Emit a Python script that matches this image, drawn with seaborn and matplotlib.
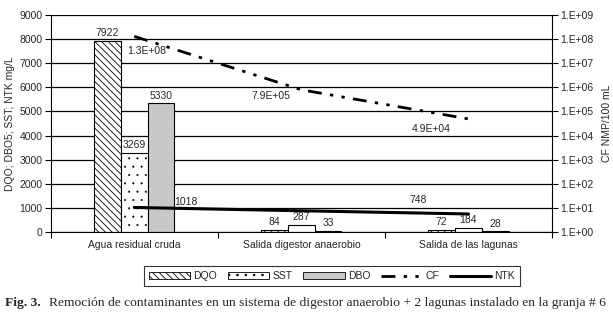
import matplotlib
matplotlib.use("Agg")
import matplotlib.pyplot as plt
import matplotlib.ticker as mticker
from matplotlib.patches import Patch
from matplotlib.lines import Line2D
import seaborn as sns
import pandas as pd
import numpy as np

categories = ["Agua residual cruda", "Salida digestor anaerobio", "Salida de las lagunas"]
dqo = [7922, 84, 72]
sst = [3269, 287, 184]
dbo = [5330, 33, 28]
cf = [1.3e8, 7.9e5, 4.9e4]
cf_labels = ["1.3E+08", "7.9E+05", "4.9E+04"]
ntk = [1018, 880, 748]
ntk_labels = ["1018", None, "748"]
series = ["DQO", "SST", "DBO"]

sns.set_theme(style="white")
plt.rcParams['font.family'] = ['Liberation Sans', 'DejaVu Sans']
plt.rcParams['hatch.linewidth'] = 0.6

FS = 7.5

rows = []
for name, vals in zip(series, [dqo, sst, dbo]):
    for c, v in zip(categories, vals):
        rows.append({"cat": c, "serie": name, "val": v})
df = pd.DataFrame(rows)

fig = plt.figure(figsize=(6.13, 3.20), dpi=100)
ax = fig.add_axes([50.7/613, 1-232/320, (552-50.7)/613, 217/320])

colors = {"DQO": "white", "SST": "white", "DBO": "#c8c8c8"}
sns.barplot(data=df, x="cat", y="val", hue="serie", order=categories, hue_order=series,
            palette=colors, width=0.48, edgecolor="black", linewidth=0.8, ax=ax,
            legend=False, saturation=1)
hatches = {"DQO": "\\\\\\\\\\", "SST": "..", "DBO": ""}
hatch_lw = {"DQO": 0.6, "SST": 0.25, "DBO": 0.6}
for cont, name in zip(ax.containers, series):
    for p in cont:
        p.set_hatch(hatches[name])
        p.set_edgecolor("black")
        try:
            p.set_hatch_linewidth(hatch_lw[name])
        except Exception:
            pass
    ax.bar_label(cont, labels=[str(v) for v in df[df.serie == name]["val"]],
                 padding=2, fontsize=FS)

ax.set_ylim(0, 9000)
ax.set_xlim(-0.5, 2.5)
ax.set_yticks(np.arange(0, 9001, 1000))
ax.yaxis.grid(True, color="black", linewidth=0.9)
ax.set_axisbelow(True)
ax.tick_params(axis="y", labelsize=FS, length=4, width=0.8, direction="out", left=True, color="black", pad=2)
ax.set_xticks([-0.5, 0.5, 1.5, 2.5])
ax.set_xticklabels([])
ax.set_xticks([0, 1, 2], minor=True)
ax.set_xticklabels(categories, minor=True, fontsize=FS)
ax.tick_params(axis="x", which="major", length=4, width=0.8, direction="out", bottom=True, color="black")
ax.tick_params(axis="x", which="minor", length=0, pad=6)
for s in ["top", "right"]:
    ax.spines[s].set_visible(False)
for s in ["left", "bottom"]:
    ax.spines[s].set_color("black")
    ax.spines[s].set_linewidth(0.8)

# NTK line on primary axis
ntk_df = pd.DataFrame({"x": [0, 1, 2], "v": ntk})
sns.lineplot(data=ntk_df, x="x", y="v", ax=ax, color="black", linewidth=2.2)
ax.set_xlabel("")
ax.set_ylabel("DQO; DBO5; SST; NTK mg/L", fontsize=FS, labelpad=3)
ax.set_xlim(-0.5, 2.5)
ax.annotate(ntk_labels[0], (0, ntk[0]), xytext=(37, 0), textcoords="offset points", fontsize=FS, ha="center", va="bottom")
ax.annotate(ntk_labels[2], (2, ntk[2]), xytext=(-36, 6.5), textcoords="offset points", fontsize=FS, ha="center", va="bottom")

# CF on log secondary axis
ax2 = ax.twinx()
cf_df = pd.DataFrame({"x": [0, 1, 2], "v": cf})
sns.lineplot(data=cf_df, x="x", y="v", ax=ax2, color="black", linewidth=2.0,
             linestyle=(0, (5, 3, 1.2, 3, 1.2, 3)))
ax2.set_yscale("log")
ax2.set_ylim(1, 1e9)
ax2.set_xlim(-0.5, 2.5)
ax2.set_yticks([10.0**k for k in range(10)])
ax2.yaxis.set_major_formatter(mticker.FuncFormatter(lambda v, p: "1.E+%02d" % int(round(np.log10(v)))))
ax2.yaxis.set_minor_locator(mticker.NullLocator())
ax2.tick_params(axis="y", labelsize=FS, length=4, width=0.8, direction="out", right=True, color="black", pad=2)
ax2.set_ylabel("CF NMP/100 mL", fontsize=FS, labelpad=6)
ax2.set_xlabel("")
for s in ["top", "left", "bottom"]:
    ax2.spines[s].set_visible(False)
ax2.spines["right"].set_color("black")
ax2.spines["right"].set_linewidth(0.8)
ax2.annotate(cf_labels[0], (0, cf[0]), xytext=(-5, -7), textcoords="offset points", fontsize=FS, ha="left", va="top")
ax2.annotate(cf_labels[1], (1, cf[1]), xytext=(-22, -1), textcoords="offset points", fontsize=FS, ha="center", va="top")
ax2.annotate(cf_labels[2], (2, cf[2]), xytext=(-27, -3.5), textcoords="offset points", fontsize=FS, ha="center", va="top")

sst_patch = Patch(facecolor="white", edgecolor="black", hatch="..", linewidth=0.6)
try:
    sst_patch.set_hatch_linewidth(0.25)
except Exception:
    pass
handles = [
    Patch(facecolor="white", edgecolor="black", hatch="\\\\\\\\\\", linewidth=0.6),
    sst_patch,
    Patch(facecolor="#c8c8c8", edgecolor="black", linewidth=0.6),
    Line2D([], [], color="black", linewidth=2.0, linestyle=(0, (5, 3, 1.2, 3, 1.2, 3))),
    Line2D([], [], color="black", linewidth=2.2),
]
leg = fig.legend(handles, ["DQO", "SST", "DBO", "CF", "NTK"], loc="center",
                 bbox_to_anchor=(332/613, 1-276/320), ncol=5, fontsize=FS, frameon=True,
                 fancybox=False, edgecolor="black", handlelength=4.0, handletextpad=0.3,
                 columnspacing=1.0, borderpad=0.5, handleheight=0.6)
leg.get_frame().set_linewidth(0.8)

fig.text(5/613, 1-303/320, "Fig. 3.", fontsize=9.7, family="Liberation Serif", weight="bold", va="center")
fig.text(49/613, 1-303/320, "Remoción de contaminantes en un sistema de digestor anaerobio + 2 lagunas instalado en la granja # 6",
         fontsize=9.7, family="Liberation Serif", va="center")

fig.savefig("out.png", dpi=100)
